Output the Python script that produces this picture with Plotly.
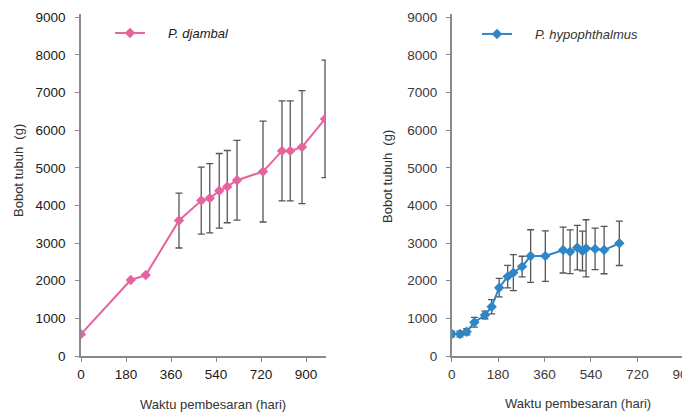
import plotly.graph_objects as go

# P. djambal (left panel)
dj_days = [0, 199, 259, 392, 481, 515, 553, 585, 624, 728, 804, 837, 884, 976]
dj_weight = [580, 2020, 2150, 3600, 4130, 4190, 4390, 4500, 4670, 4900, 5450, 5450, 5550, 6300]
dj_err = [0, 0, 0, 730, 890, 920, 990, 960, 1060, 1340, 1330, 1330, 1500, 1560]

# P. hypophthalmus (right panel)
hy_days = [0, 32, 58, 88, 129, 155, 184, 217, 239, 273, 306, 363, 432, 459, 487, 507, 521, 556, 591, 650]
hy_weight = [585, 585, 645, 895, 1090, 1310, 1815, 2110, 2215, 2375, 2655, 2655, 2815, 2770, 2880, 2790, 2860, 2845, 2815, 2995]
hy_err = [75, 75, 80, 130, 100, 190, 245, 300, 480, 275, 700, 670, 610, 580, 590, 530, 760, 550, 630, 590]

x_ticks = [0, 180, 360, 540, 720, 900]
y_ticks = [0, 1000, 2000, 3000, 4000, 5000, 6000, 7000, 8000, 9000]

# the page body adds an 8px margin, so the figure is 8px smaller than the window
OFF = 8
W, H = 690 - OFF, 412 - OFF
PINK = "#E5649E"
BLUE = "#2F86C6"
ERR = "#555555"
AX = "#8a8a8a"
FONT = "Liberation Sans, Arial, sans-serif"

def px(x):
    return (x - OFF) / W

def py(y):
    return 1 - (y - OFF) / H

SP = "&nbsp;" * 5

fig = go.Figure()
fig.add_trace(go.Scatter(
    x=dj_days, y=dj_weight, mode="lines+markers", name=SP + "<i>P. djambal</i>",
    line=dict(color=PINK, width=2), marker=dict(symbol="diamond", size=8, color=PINK),
    error_y=dict(type="data", array=dj_err, visible=True, color=ERR, thickness=1.3, width=3.5),
    xaxis="x", yaxis="y", legend="legend"))
fig.add_trace(go.Scatter(
    x=hy_days, y=hy_weight, mode="lines+markers", name=SP + "<i>P. hypophthalmus</i>",
    line=dict(color=BLUE, width=2), marker=dict(symbol="diamond", size=8, color=BLUE),
    error_y=dict(type="data", array=hy_err, visible=True, color=ERR, thickness=1.3, width=3.5),
    xaxis="x2", yaxis="y2", legend="legend2"))

def axis_style(color):
    return dict(showgrid=False, zeroline=False, showline=True, linecolor=AX, linewidth=1.5,
                ticks="outside", ticklen=4, tickcolor=AX, tickwidth=1.2, automargin=False,
                ticklabeloverflow="allow",
                tickfont=dict(family=FONT, size=13.5, color=color))

ydom = [py(356), py(13.5)]
fig.update_layout(
    width=W, height=H, margin=dict(l=0, r=0, t=0, b=0, autoexpand=False),
    paper_bgcolor="white", plot_bgcolor="white",
    font=dict(family=FONT, color="#333"),
    xaxis=dict(domain=[px(81), px(326)], range=[0, 980], tickvals=x_ticks, anchor="y",
               ticklabelstandoff=1, **axis_style("#1a1a1a")),
    yaxis=dict(domain=ydom, range=[0, 9100], tickvals=y_ticks, anchor="x",
               ticklabelstandoff=7, **axis_style("#1a1a1a")),
    xaxis2=dict(domain=[px(451.7), 1], range=[0, 924], tickvals=x_ticks, anchor="y2",
                ticklabelstandoff=1, **axis_style("#3a3a3a")),
    yaxis2=dict(domain=ydom, range=[0, 9100], tickvals=y_ticks, anchor="x2",
                ticklabelstandoff=6, **axis_style("#3a3a3a")),
    legend=dict(x=px(110), y=py(33), xanchor="left", yanchor="middle", bgcolor="rgba(0,0,0,0)",
                font=dict(family=FONT, size=13, color="#1a1a1a")),
    legend2=dict(x=px(477), y=py(34), xanchor="left", yanchor="middle", bgcolor="rgba(0,0,0,0)",
                 font=dict(family=FONT, size=13, color="#333")),
    showlegend=True,
)

ann_font = dict(family=FONT, size=13, color="#333")
fig.add_annotation(text="Waktu pembesaran (hari)", x=px(213), y=py(404), xref="paper", yref="paper",
                   showarrow=False, font=ann_font, xanchor="center", yanchor="middle")
fig.add_annotation(text="Waktu pembesaran (hari)", x=px(578), y=py(403), xref="paper", yref="paper",
                   showarrow=False, font=ann_font, xanchor="center", yanchor="middle")
fig.add_annotation(text="Bobot tubuh  (g)", x=px(18), y=py(171), xref="paper", yref="paper",
                   showarrow=False, font=ann_font, textangle=-90, xanchor="center", yanchor="middle")
fig.add_annotation(text="Bobot tubuh  (g)", x=px(388), y=py(176), xref="paper", yref="paper",
                   showarrow=False, font=ann_font, textangle=-90, xanchor="center", yanchor="middle")

fig.write_html("out.html")
